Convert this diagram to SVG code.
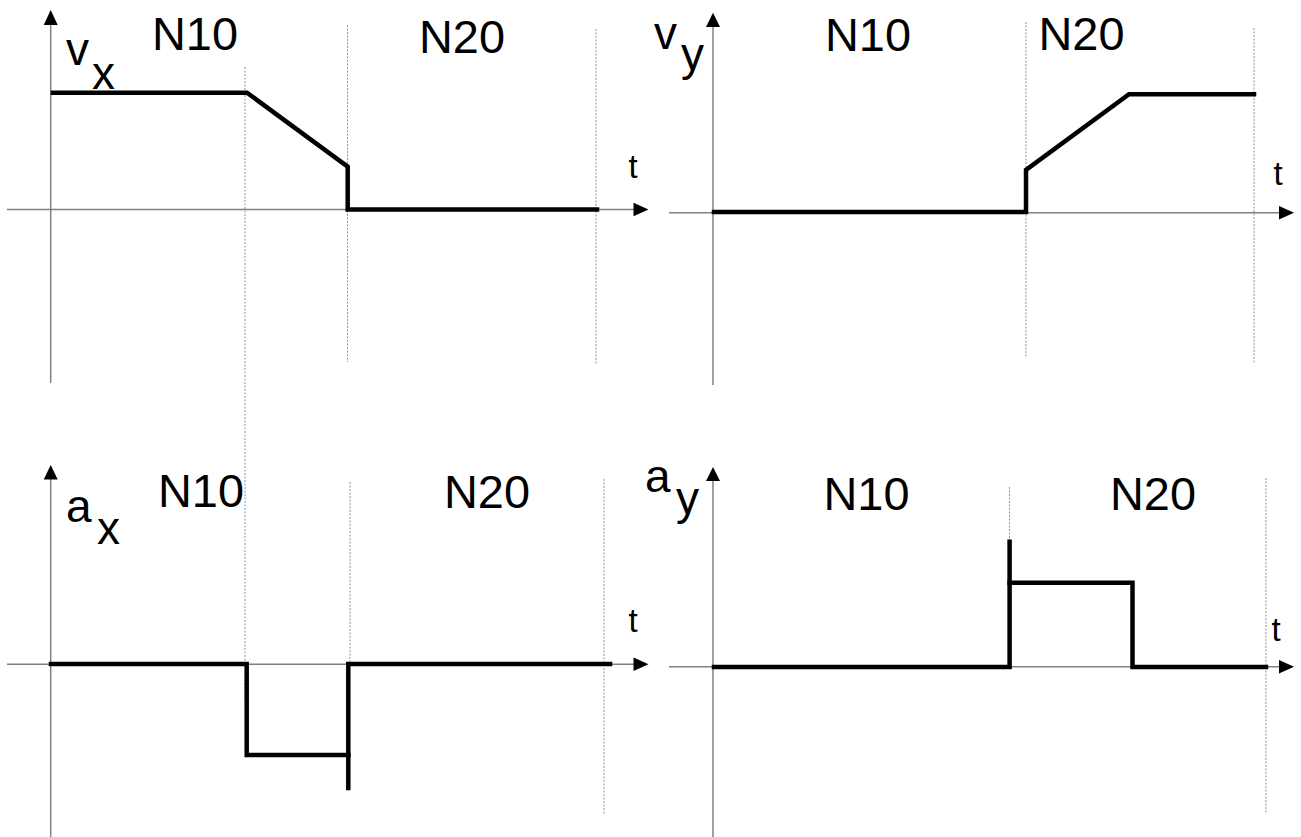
<svg xmlns="http://www.w3.org/2000/svg" width="1301" height="837" viewBox="0 0 1301 837">
<style>
.axis{stroke:#808080;stroke-width:1.5;fill:none}
.grid{stroke:#909090;stroke-width:1;stroke-dasharray:2 1.5;fill:none}
.sig{stroke:#000;stroke-width:4.5;fill:none;stroke-linejoin:miter;stroke-linecap:square}
.head{fill:#000}
.lbl{font-family:"Liberation Sans",Arial,sans-serif;font-size:46px;fill:#000}
.big{font-family:"Liberation Sans",Arial,sans-serif;font-size:46px;fill:#000;text-anchor:middle}
.t{font-family:"Liberation Sans",Arial,sans-serif;font-size:33px;fill:#000}
</style>
<rect width="1301" height="837" fill="#fff"/>
<g id="grid-lines">
<line class="grid" x1="245" y1="67" x2="245" y2="700"/>
<line class="grid" x1="347.5" y1="25" x2="347.5" y2="362"/>
<line class="grid" x1="596" y1="29" x2="596" y2="365"/>
<line class="grid" x1="350" y1="482" x2="350" y2="664"/>
<line class="grid" x1="604" y1="479" x2="604" y2="815"/>
<line class="grid" x1="1026" y1="22" x2="1026" y2="358"/>
<line class="grid" x1="1254" y1="28" x2="1254" y2="363"/>
<line class="grid" x1="1009.5" y1="487" x2="1009.5" y2="541"/>
<line class="grid" x1="1266" y1="478" x2="1266" y2="813"/>
</g>
<g id="axes">
<line class="axis" x1="50.7" y1="24" x2="50.7" y2="383"/>
<line class="axis" x1="7" y1="209.5" x2="634" y2="209.5"/>
<polygon class="head" points="50.7,10 43.7,25 57.7,25"/>
<polygon class="head" points="648.5,209.5 633.5,202.8 633.5,216.2"/>
<line class="axis" x1="713" y1="26" x2="713" y2="385"/>
<line class="axis" x1="669" y1="212.7" x2="1280" y2="212.7"/>
<polygon class="head" points="713,12.7 706,27 720,27"/>
<polygon class="head" points="1294,212.7 1279,206 1279,219.4"/>
<line class="axis" x1="50.7" y1="478" x2="50.7" y2="837"/>
<line class="axis" x1="7" y1="664.3" x2="634" y2="664.3"/>
<polygon class="head" points="50.7,465 43.7,479.5 57.7,479.5"/>
<polygon class="head" points="648.5,664.3 633.5,657.6 633.5,671"/>
<line class="axis" x1="713" y1="479" x2="713" y2="837"/>
<line class="axis" x1="669" y1="666.7" x2="1280" y2="666.7"/>
<polygon class="head" points="713,467 706,481 720,481"/>
<polygon class="head" points="1294,666.7 1279,660 1279,673.4"/>
</g>
<g id="signal-vx"><path class="sig" d="M53,92.7 L247,92.7 L347.7,166.7 L347.7,209.5 L597,209.5"/></g>
<g id="signal-vy"><path class="sig" d="M714,212 L1026,212 L1026,170 L1129,94.3 L1254,94.3"/></g>
<g id="signal-ax"><path class="sig" d="M51,664 L246.7,664 L246.7,755 L348.3,755"/><path class="sig" d="M348.3,788 L348.3,664 L610,664"/></g>
<g id="signal-ay"><path class="sig" d="M714,667 L1009.6,667 L1009.6,541.7"/><path class="sig" d="M1009.6,582.7 L1132.5,582.7 L1132.5,667 L1266,667"/></g>
<g id="labels">
<text class="lbl" x="66" y="65">v</text><text class="lbl" x="92" y="89">x</text>
<text class="lbl" x="654" y="49">v</text><text class="lbl" x="681" y="70">y</text>
<text class="lbl" x="66" y="522">a</text><text class="lbl" x="97" y="544">x</text>
<text class="lbl" x="645" y="492">a</text><text class="lbl" x="676" y="514">y</text>
<text class="big" x="195" y="49.5" textLength="86" lengthAdjust="spacingAndGlyphs">N10</text>
<text class="big" x="462" y="53" textLength="86" lengthAdjust="spacingAndGlyphs">N20</text>
<text class="big" x="868" y="50.5" textLength="86" lengthAdjust="spacingAndGlyphs">N10</text>
<text class="big" x="1081.5" y="50" textLength="86" lengthAdjust="spacingAndGlyphs">N20</text>
<text class="big" x="201" y="507" textLength="86" lengthAdjust="spacingAndGlyphs">N10</text>
<text class="big" x="487" y="507.5" textLength="86" lengthAdjust="spacingAndGlyphs">N20</text>
<text class="big" x="866.5" y="509.5" textLength="86" lengthAdjust="spacingAndGlyphs">N10</text>
<text class="big" x="1153" y="510" textLength="86" lengthAdjust="spacingAndGlyphs">N20</text>
<text class="t" x="628.5" y="178">t</text>
<text class="t" x="1273.5" y="185">t</text>
<text class="t" x="628.5" y="632">t</text>
<text class="t" x="1271.5" y="641">t</text>
</g>
</svg>
